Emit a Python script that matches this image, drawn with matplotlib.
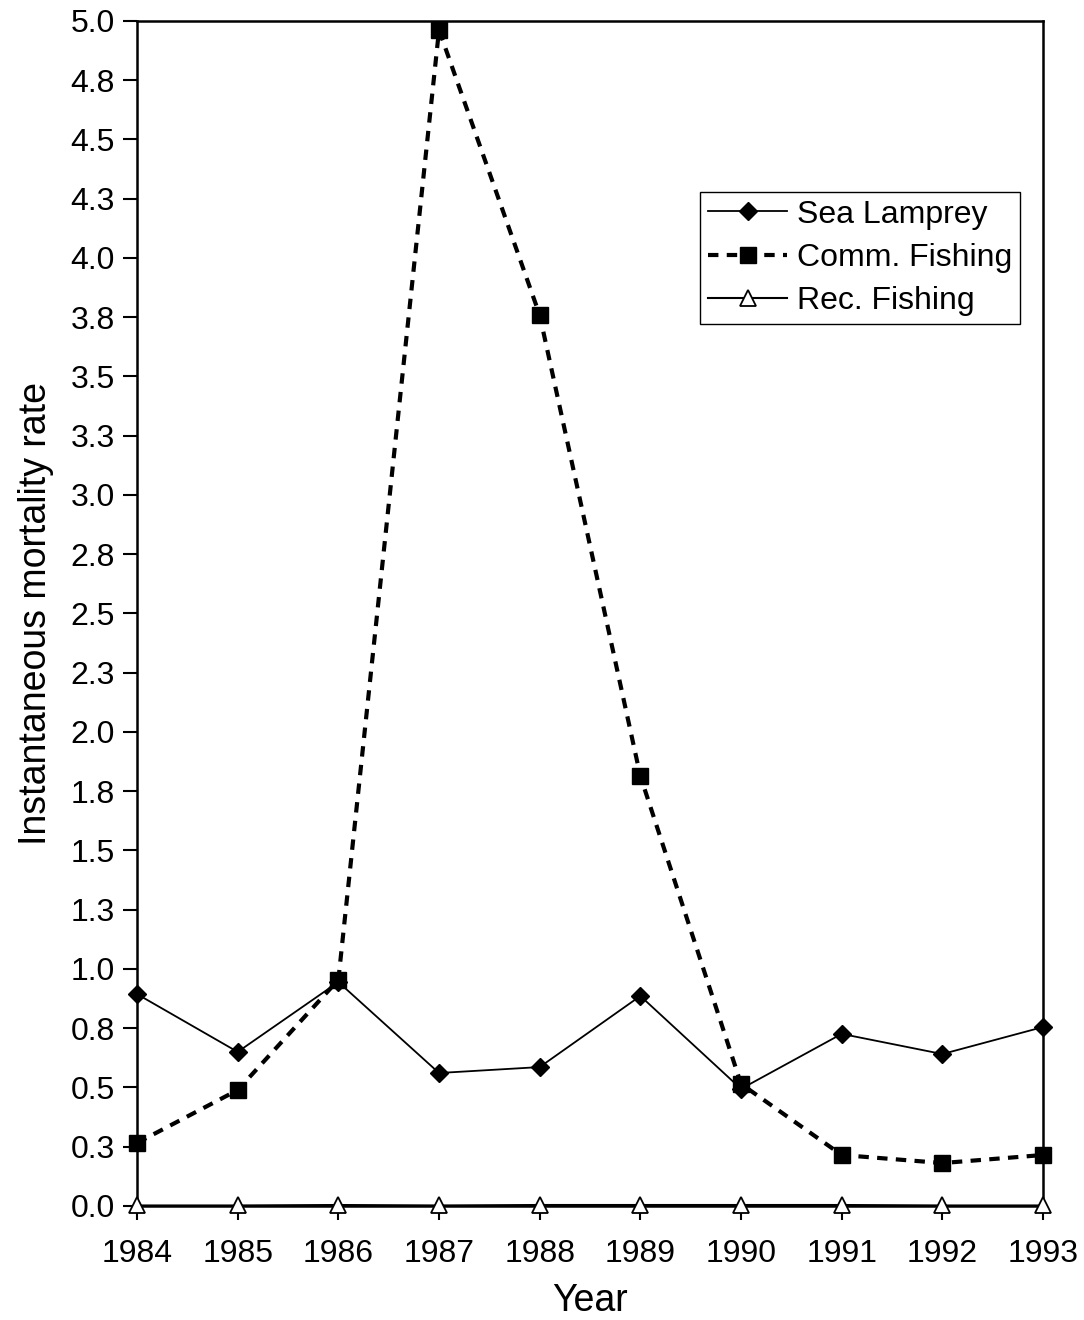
import matplotlib
matplotlib.use('Agg')
import matplotlib.pyplot as plt

plt.rcParams['font.family'] = ['Liberation Sans', 'DejaVu Sans']

anos = [1984, 1985, 1986, 1987, 1988, 1989, 1990, 1991, 1992, 1993]
sea_lamprey = [0.894, 0.650, 0.945, 0.561, 0.586, 0.886, 0.494, 0.726, 0.641, 0.755]
comm_fishing = [0.266, 0.489, 0.954, 4.962, 3.759, 1.814, 0.515, 0.215, 0.181, 0.215]
rec_fishing = [0.002, 0.002, 0.004, 0.002, 0.004, 0.004, 0.004, 0.004, 0.002, 0.002]

y_ticks = [i * 0.25 for i in range(21)]
y_labels = ['0.0', '0.3', '0.5', '0.8', '1.0', '1.3', '1.5', '1.8', '2.0', '2.3', '2.5',
            '2.8', '3.0', '3.3', '3.5', '3.8', '4.0', '4.3', '4.5', '4.8', '5.0']

fig = plt.figure(figsize=(10.84, 13.2), dpi=100)
ax = fig.add_axes([0.1264, 0.0864, 0.8358, 0.8977])

ax.plot(anos, sea_lamprey, color='black', lw=1.3, marker='D', ms=9,
        label='Sea Lamprey', clip_on=False, zorder=3)
ax.plot(anos, comm_fishing, color='black', lw=3, ls=(0, (2.5, 2)), marker='s', ms=12,
        label='Comm. Fishing', clip_on=False, zorder=4)
ax.plot(anos, rec_fishing, color='black', lw=1.5, marker='^', ms=11, mfc='white',
        mew=1.3, label='Rec. Fishing', clip_on=False, zorder=5)

ax.set_xlim(1984, 1993)
ax.set_ylim(0, 5.0)
ax.set_xticks(anos)
ax.set_yticks(y_ticks)
ax.set_yticklabels(y_labels)
ax.tick_params(axis='both', labelsize=23, length=10, width=1.5, direction='out')
ax.tick_params(axis='x', pad=14)
ax.tick_params(axis='y', pad=6)
for s in ax.spines.values():
    s.set_linewidth(1.8)

ax.set_xlabel('Year', fontsize=27, labelpad=10)
ax.set_ylabel('Instantaneous mortality rate', fontsize=27, labelpad=12)

leg = ax.legend(loc='upper left', bbox_to_anchor=(0.621, 0.856), fontsize=23,
                frameon=True, fancybox=False, edgecolor='black', framealpha=1,
                handlelength=2.5, handletextpad=0.3, borderpad=0.25, labelspacing=0.42,
                borderaxespad=0)
leg.get_frame().set_linewidth(1.0)

plt.savefig('out.png', dpi=100)
